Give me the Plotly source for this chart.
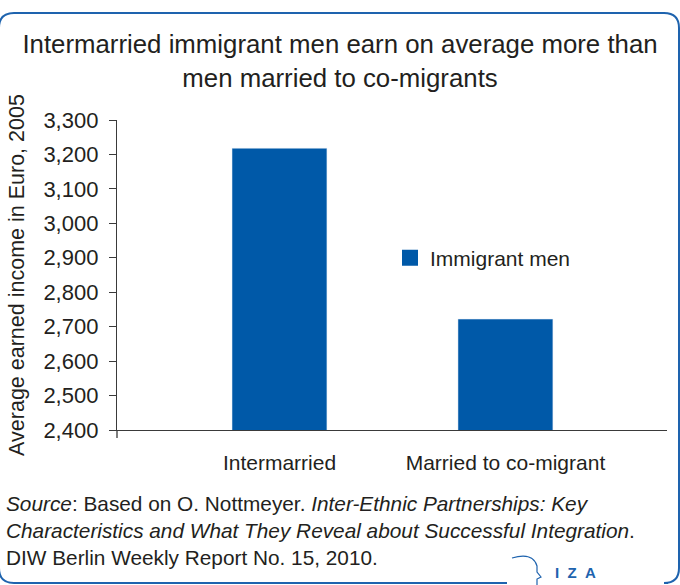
import plotly.graph_objects as go

categories = ["Intermarried", "Married to co-migrant"]
series_name = "Immigrant men"
values = [3218, 2722]
y_ticks = [2400, 2500, 2600, 2700, 2800, 2900, 3000, 3100, 3200, 3300]

title_text = ("Intermarried immigrant men earn on average more than<br>"
              "men married to co-migrants")
y_title = "Average earned income in Euro, 2005"
source_text = ("<i>Source</i>: Based on O. Nottmeyer. <i>Inter-Ethnic Partnerships: Key</i><br>"
               "<i>Characteristics and What They Reveal about Successful Integration</i>.<br>"
               "DIW Berlin Weekly Report No. 15, 2010.")
logo_text = "I\u00a0\u00a0Z\u00a0\u00a0A"

W, H = 680, 585
L, R, T, B = 117, 13, 120, 155
PW, PH = W - L - R, H - T - B
BAR = "#0059A8"
TXT = "#231F20"
AX = "#3a3a3a"
BORDER = "#1E63AE"
FONT = "Liberation Sans, Arial, sans-serif"
XR = [-0.719, 1.715]


def px(x):
    return (x - L) / PW


def py(y):
    return (H - B - y) / PH


fig = go.Figure()
fig.add_trace(go.Bar(x=categories, y=values, marker_color=BAR, width=0.42,
                     showlegend=False, name=series_name))
fig.add_trace(go.Scatter(x=[None], y=[None], mode="markers", name=series_name,
                         marker=dict(symbol="square", size=16, color=BAR)))

# rounded border with gap for the logo
r = 15
x0, x1, y0, y1 = -1, 679, 13, 583
p = []
p.append(f"M {px(507)},{py(y1)}")
p.append(f"L {px(x0 + r)},{py(y1)}")
p.append(f"Q {px(x0)},{py(y1)} {px(x0)},{py(y1 - r)}")
p.append(f"L {px(x0)},{py(y0 + r)}")
p.append(f"Q {px(x0)},{py(y0)} {px(x0 + r)},{py(y0)}")
p.append(f"L {px(x1 - r)},{py(y0)}")
p.append(f"Q {px(x1)},{py(y0)} {px(x1)},{py(y0 + r)}")
p.append(f"L {px(x1)},{py(y1 - r)}")
p.append(f"Q {px(x1)},{py(y1)} {px(x1 - r)},{py(y1)}")
p.append(f"L {px(668)},{py(y1)}")
shapes = [dict(type="path", xref="paper", yref="paper", path=" ".join(p),
               line=dict(color=BORDER, width=2))]
# IZA head outline
head = (f"M {px(512)},{py(558)} Q {px(533)},{py(552)} {px(537)},{py(566)} "
        f"L {px(537)},{py(572)} L {px(541)},{py(577)} L {px(537)},{py(579)} "
        f"L {px(537)},{py(586)}")
shapes.append(dict(type="path", xref="paper", yref="paper", path=head,
                   line=dict(color=BORDER, width=1.2)))
# y-axis line continuing a little below the x axis
shapes.append(dict(type="line", xref="paper", yref="paper", x0=0, x1=0,
                   y0=0, y1=py(438), line=dict(color=AX, width=1.3)))

fig.update_layout(
    width=W, height=H,
    margin=dict(l=L, r=R, t=T, b=B, autoexpand=False),
    paper_bgcolor="white", plot_bgcolor="white",
    font=dict(family=FONT, color=TXT),
    title=dict(text=title_text, x=0.5, xref="container", xanchor="center",
               y=1 - 53 / H, yref="container", yanchor="top",
               font=dict(size=25.8, color=TXT, family=FONT)),
    xaxis=dict(type="category", range=XR, showline=True, linecolor=AX, linewidth=1.3,
               ticks="", showgrid=False, zeroline=False, automargin=False,
               tickangle=0,
               tickfont=dict(size=21, color=TXT), ticklabelstandoff=14),
    yaxis=dict(range=[2400, 3300], tickvals=y_ticks, tickformat=",", ticks="outside",
               ticklen=7, tickcolor=AX, tickwidth=1.3, showline=True, linecolor=AX,
               linewidth=1.3, showgrid=False, zeroline=False, automargin=False,
               tickfont=dict(size=22, color=TXT), ticklabelstandoff=6,
               title=dict(text=y_title, font=dict(size=21.5, color=TXT), standoff=12)),
    legend=dict(x=px(390), xanchor="left", y=py(258), yanchor="middle",
                font=dict(size=21, color=TXT), bgcolor="rgba(0,0,0,0)",
                borderwidth=0),
    shapes=shapes,
    annotations=[
        dict(text=source_text, xref="paper", yref="paper", x=px(4), y=py(490),
             xanchor="left", yanchor="top", align="left", showarrow=False,
             font=dict(size=20.8, color=TXT)),
        dict(text=f"<b>{logo_text}</b>", xref="paper", yref="paper", x=px(553), y=py(572),
             xanchor="left", yanchor="middle", showarrow=False,
             font=dict(size=15, color=BORDER)),
    ],
)

fig.write_html("out.html", config={"displayModeBar": False},
               post_script="document.body.style.margin='0';document.body.style.overflow='hidden';")
